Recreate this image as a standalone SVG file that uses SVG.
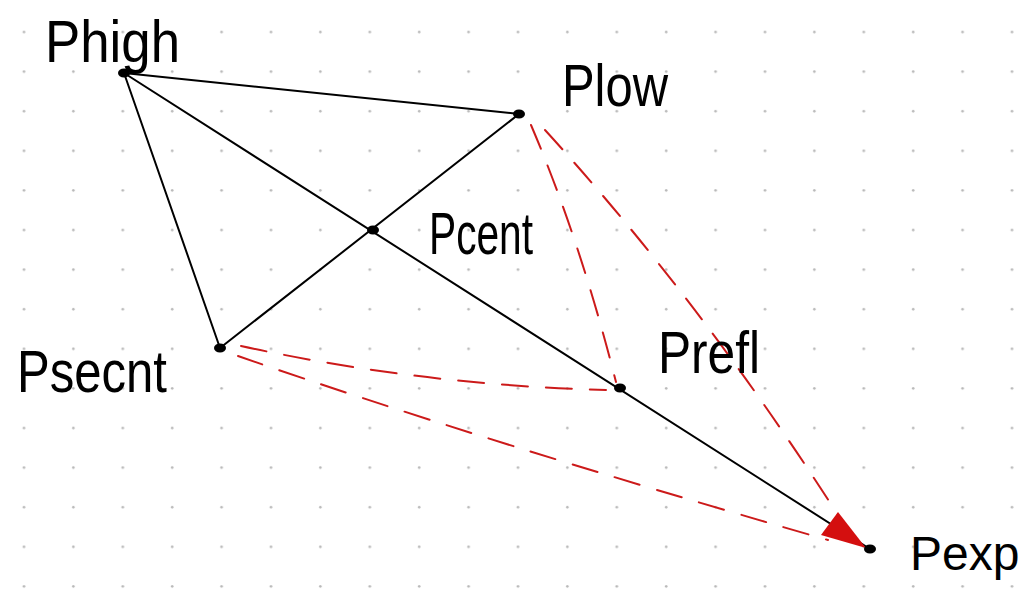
<svg xmlns="http://www.w3.org/2000/svg" width="1025" height="593" viewBox="0 0 1025 593">
<defs>
<pattern id="grid" x="0" y="0" width="49.4" height="39.6" patternUnits="userSpaceOnUse">
<circle cx="24" cy="32" r="1.3" fill="#b8b8b8"/>
</pattern>
<style>
.edge{stroke:#000;stroke-width:2;fill:none;stroke-linecap:round}
.dash{stroke:#cc1a1a;stroke-width:2;fill:none;stroke-dasharray:26 18;stroke-linecap:round}
.pt{fill:#000}
.lbl{font-family:"Liberation Sans","DejaVu Sans",sans-serif;font-size:60px;fill:#000;font-weight:normal}
</style>
</defs>
<rect width="1025" height="593" fill="#fff"/>
<rect width="1025" height="593" fill="url(#grid)"/>
<g id="connectors">
<line class="edge" x1="124" y1="73" x2="519" y2="114"/>
<line class="edge" x1="124" y1="73" x2="220" y2="348"/>
<line class="edge" x1="220" y1="348" x2="519" y2="114"/>
<line class="edge" x1="124" y1="73" x2="870" y2="549"/>
<path class="dash" d="M531,125 Q580,240 616,382"/>
<path class="dash" d="M545,130 Q700,300 838,515"/>
<path class="dash" d="M241,346 Q420,385 606,390"/>
<path class="dash" d="M238,356 Q480,440 828,540"/>
<polygon points="838,512 821,535 866,548" fill="#d40f0f"/>
</g>
<g id="Phigh"><ellipse class="pt" cx="124" cy="73" rx="6" ry="4.5"/><text class="lbl" x="45" y="62" textLength="135" lengthAdjust="spacingAndGlyphs">Phigh</text></g>
<g id="Plow"><ellipse class="pt" cx="519" cy="114" rx="6" ry="4.5"/><text class="lbl" x="562" y="106" textLength="106" lengthAdjust="spacingAndGlyphs">Plow</text></g>
<g id="Pcent"><ellipse class="pt" cx="373" cy="230" rx="6" ry="4.5"/><text class="lbl" x="429" y="254" textLength="104" lengthAdjust="spacingAndGlyphs">Pcent</text></g>
<g id="Psecnt"><ellipse class="pt" cx="220" cy="348" rx="6" ry="4.5"/><text class="lbl" x="17" y="392" textLength="150" lengthAdjust="spacingAndGlyphs">Psecnt</text></g>
<g id="Prefl"><ellipse class="pt" cx="620" cy="388" rx="6" ry="4.5"/><text class="lbl" x="658" y="373" textLength="102" lengthAdjust="spacingAndGlyphs">Prefl</text></g>
<g id="Pexp"><ellipse class="pt" cx="870" cy="549" rx="6" ry="4.5"/><text class="lbl" x="910" y="570" font-size="48" style="font-size:48px">Pexp</text></g>
</svg>
